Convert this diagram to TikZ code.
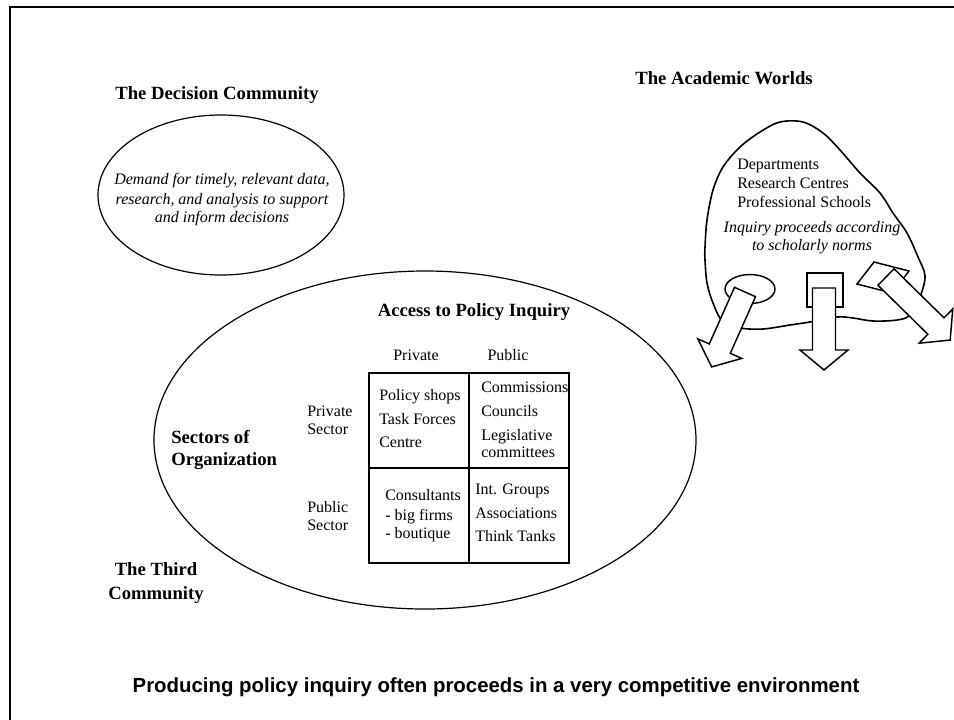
\documentclass[tikz,border=0pt]{standalone}
\usepackage{fontspec}
\setmainfont{Liberation Serif}
\newfontfamily\capfont{Liberation Sans}
\newcommand{\blkarrow}[3]{%
  \begin{scope}[shift={#1}, rotate=#2]
    \draw[blockarrow] (0,-11.5) -- ({#3-20},-11.5) -- ({#3-20},-24) -- (#3,0) -- ({#3-20},24) -- ({#3-20},11.5) -- (0,11.5) -- cycle;
  \end{scope}}
\begin{document}
\begin{tikzpicture}[x=0.75pt,y=-0.75pt,
  title/.style={font=\fontsize{14}{16}\selectfont\bfseries, inner sep=0pt, anchor=base},
  titlel/.style={title, anchor=base west},
  txt/.style={font=\fontsize{12}{14}\selectfont, inner sep=0pt, anchor=base west},
  ctxt/.style={font=\fontsize{12}{14}\selectfont, inner sep=0pt, anchor=base},
  itxt/.style={font=\fontsize{12}{14}\selectfont\itshape, inner sep=0pt, anchor=base},
  outline/.style={draw=black, line width=0.9pt},
  gridline/.style={draw=black, line width=1.3pt},
  blockarrow/.style={draw=black, line width=1.1pt, fill=white, line join=miter}]
\useasboundingbox (0,0) rectangle (954,719);
\begin{scope}
\clip (0,0) rectangle (954,719);
\draw[line width=1.6pt] (10,730) -- (10,7) -- (965,7);
\end{scope}

% Decision community
\node[title] (dectitle) at (217,99) {The Decision Community};
\draw[outline] (221,195) ellipse [x radius=123, y radius=80];
\node[itxt] (dec1) at (222,184.5) {Demand for timely, relevant data,};
\node[itxt] (dec2) at (222,204.5) {research, and analysis to support};
\node[itxt] (dec3) at (222,222.5) {and inform decisions};

% Academic worlds
\node[title] (acadtitle) at (724,84) {The Academic Worlds};
\draw[line width=1.2pt] plot[smooth cycle, tension=0.55] coordinates {(803,122) (823,133) (840,150) (860,173) (880,193) (893,213) (907,233) (918,257) (925,276) (920,297) (910,315) (897,320) (873,321) (853,318) (837,317) (810,322) (790,325) (763,329) (740,328) (723,322) (713,303) (707,283) (705,260) (705,247) (707,220) (713,190) (723,167) (740,147) (760,132) (780,122)};
\node[txt] (ac1) at (737,169.5) {Departments};
\node[txt] (ac2) at (737,188.5) {Research Centres};
\node[txt] (ac3) at (737,207.5) {Professional Schools};
\node[itxt] (ac4) at (812,232.5) {Inquiry proceeds according};
\node[itxt] (ac5) at (812,250.5) {to scholarly norms};

\draw[outline, line width=1.1pt, fill=white] (750,289) ellipse [x radius=25, y radius=14.5];
\draw[outline, line width=1.1pt, fill=white] (807,273) rectangle (843,307);
\draw[outline, line width=1.1pt, fill=white] (874,262) -- (909,271) -- (892,293) -- (857,284) -- cycle;
\blkarrow{(745,292)}{-114}{82}
\blkarrow{(824,288)}{-90}{82}
\blkarrow{(886,277)}{-44.5}{90}

% Third community
\draw[outline] (425,440) ellipse [x radius=271, y radius=169];
\node[title] (access) at (474,316) {Access to Policy Inquiry};
\node[ctxt] (colpriv) at (416,360.5) {Private};
\node[ctxt] (colpub) at (508,360.5) {Public};
\node[txt] (rowpriv1) at (307,416.5) {Private};
\node[txt] (rowpriv2) at (307,434.5) {Sector};
\node[txt] (rowpub1) at (307,512.5) {Public};
\node[txt] (rowpub2) at (307,530.5) {Sector};
\node[titlel] (sect1) at (171,443) {Sectors of};
\node[titlel] (sect2) at (171,465) {Organization};
\node[title] (third1) at (156,575) {The Third};
\node[title] (third2) at (156,599) {Community};

\draw[gridline] (369,373) rectangle (569,563);
\draw[gridline] (469,373) -- (469,563);
\draw[gridline] (369,468) -- (569,468);

\node[txt] (tl1) at (379,400.5) {Policy shops};
\node[txt] (tl2) at (379,424.5) {Task Forces};
\node[txt] (tl3) at (379,447.5) {Centre};
\node[txt] (tr1) at (481,392.5) {Commissions};
\node[txt] (tr2) at (481,416.5) {Councils};
\node[txt] (tr3) at (481,440.5) {Legislative};
\node[txt] (tr4) at (481,457.5) {committees};
\node[txt] (bl1) at (385,500.5) {Consultants};
\node[txt] (bl2) at (385,520.5) {- big firms};
\node[txt] (bl3) at (385,538.5) {- boutique};
\node[txt] (br1) at (475,494.5) {Int. Groups};
\node[txt] (br2) at (475,518.5) {Associations};
\node[txt] (br3) at (475,541.5) {Think Tanks};

% Caption
\node[font=\capfont\bfseries\fontsize{15.3}{18}\selectfont, inner sep=0pt, anchor=base] (caption) at (496,692.5) {Producing policy inquiry often proceeds in a very competitive environment};
\end{tikzpicture}
\end{document}
